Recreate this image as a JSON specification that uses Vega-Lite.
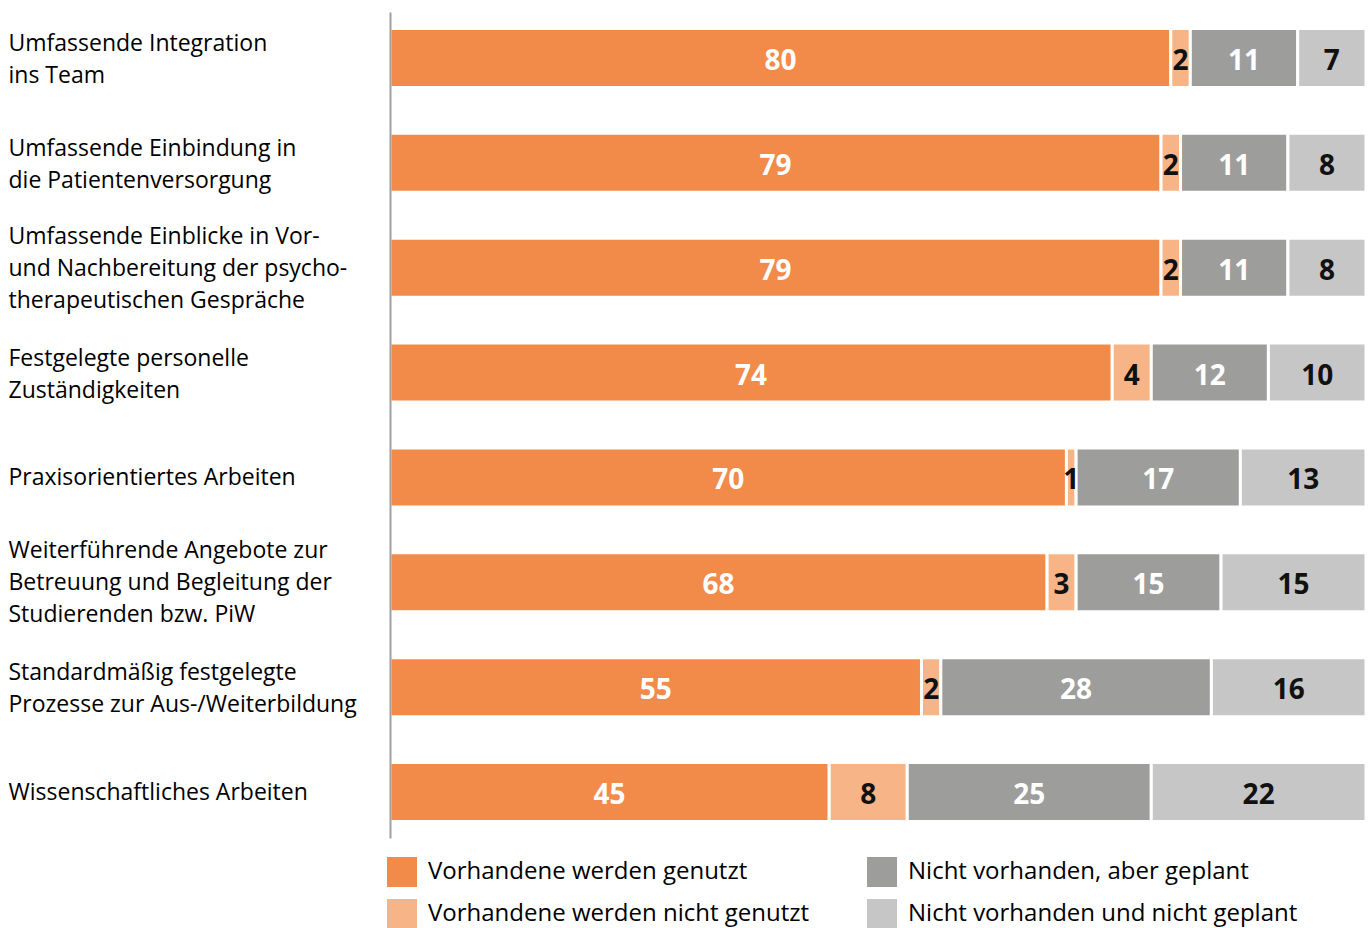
{
  "$schema": "https://vega.github.io/schema/vega-lite/v6.json",
  "width": 976,
  "height": 826,
  "padding": {"left": 8, "top": 12, "right": 0, "bottom": 0},
  "autosize": {"type": "pad"},
  "background": "white",
  "config": {"view": {"stroke": null}, "font": "Open Sans"},
  "data": {
    "values": [
      {"cat": "Umfassende Integration|ins Team", "seg": "Vorhandene werden genutzt", "k": 1, "v": 80},
      {"cat": "Umfassende Integration|ins Team", "seg": "Vorhandene werden nicht genutzt", "k": 2, "v": 2},
      {"cat": "Umfassende Integration|ins Team", "seg": "Nicht vorhanden, aber geplant", "k": 3, "v": 11},
      {"cat": "Umfassende Integration|ins Team", "seg": "Nicht vorhanden und nicht geplant", "k": 4, "v": 7},
      {"cat": "Umfassende Einbindung in|die Patientenversorgung", "seg": "Vorhandene werden genutzt", "k": 1, "v": 79},
      {"cat": "Umfassende Einbindung in|die Patientenversorgung", "seg": "Vorhandene werden nicht genutzt", "k": 2, "v": 2},
      {"cat": "Umfassende Einbindung in|die Patientenversorgung", "seg": "Nicht vorhanden, aber geplant", "k": 3, "v": 11},
      {"cat": "Umfassende Einbindung in|die Patientenversorgung", "seg": "Nicht vorhanden und nicht geplant", "k": 4, "v": 8},
      {"cat": "Umfassende Einblicke in Vor-|und Nachbereitung der psycho-|therapeutischen Gespräche", "seg": "Vorhandene werden genutzt", "k": 1, "v": 79},
      {"cat": "Umfassende Einblicke in Vor-|und Nachbereitung der psycho-|therapeutischen Gespräche", "seg": "Vorhandene werden nicht genutzt", "k": 2, "v": 2},
      {"cat": "Umfassende Einblicke in Vor-|und Nachbereitung der psycho-|therapeutischen Gespräche", "seg": "Nicht vorhanden, aber geplant", "k": 3, "v": 11},
      {"cat": "Umfassende Einblicke in Vor-|und Nachbereitung der psycho-|therapeutischen Gespräche", "seg": "Nicht vorhanden und nicht geplant", "k": 4, "v": 8},
      {"cat": "Festgelegte personelle|Zuständigkeiten", "seg": "Vorhandene werden genutzt", "k": 1, "v": 74},
      {"cat": "Festgelegte personelle|Zuständigkeiten", "seg": "Vorhandene werden nicht genutzt", "k": 2, "v": 4},
      {"cat": "Festgelegte personelle|Zuständigkeiten", "seg": "Nicht vorhanden, aber geplant", "k": 3, "v": 12},
      {"cat": "Festgelegte personelle|Zuständigkeiten", "seg": "Nicht vorhanden und nicht geplant", "k": 4, "v": 10},
      {"cat": "Praxisorientiertes Arbeiten", "seg": "Vorhandene werden genutzt", "k": 1, "v": 70},
      {"cat": "Praxisorientiertes Arbeiten", "seg": "Vorhandene werden nicht genutzt", "k": 2, "v": 1},
      {"cat": "Praxisorientiertes Arbeiten", "seg": "Nicht vorhanden, aber geplant", "k": 3, "v": 17},
      {"cat": "Praxisorientiertes Arbeiten", "seg": "Nicht vorhanden und nicht geplant", "k": 4, "v": 13},
      {"cat": "Weiterführende Angebote zur|Betreuung und Begleitung der|Studierenden bzw. PiW", "seg": "Vorhandene werden genutzt", "k": 1, "v": 68},
      {"cat": "Weiterführende Angebote zur|Betreuung und Begleitung der|Studierenden bzw. PiW", "seg": "Vorhandene werden nicht genutzt", "k": 2, "v": 3},
      {"cat": "Weiterführende Angebote zur|Betreuung und Begleitung der|Studierenden bzw. PiW", "seg": "Nicht vorhanden, aber geplant", "k": 3, "v": 15},
      {"cat": "Weiterführende Angebote zur|Betreuung und Begleitung der|Studierenden bzw. PiW", "seg": "Nicht vorhanden und nicht geplant", "k": 4, "v": 15},
      {"cat": "Standardmäßig festgelegte|Prozesse zur Aus-/Weiterbildung", "seg": "Vorhandene werden genutzt", "k": 1, "v": 55},
      {"cat": "Standardmäßig festgelegte|Prozesse zur Aus-/Weiterbildung", "seg": "Vorhandene werden nicht genutzt", "k": 2, "v": 2},
      {"cat": "Standardmäßig festgelegte|Prozesse zur Aus-/Weiterbildung", "seg": "Nicht vorhanden, aber geplant", "k": 3, "v": 28},
      {"cat": "Standardmäßig festgelegte|Prozesse zur Aus-/Weiterbildung", "seg": "Nicht vorhanden und nicht geplant", "k": 4, "v": 16},
      {"cat": "Wissenschaftliches Arbeiten", "seg": "Vorhandene werden genutzt", "k": 1, "v": 45},
      {"cat": "Wissenschaftliches Arbeiten", "seg": "Vorhandene werden nicht genutzt", "k": 2, "v": 8},
      {"cat": "Wissenschaftliches Arbeiten", "seg": "Nicht vorhanden, aber geplant", "k": 3, "v": 25},
      {"cat": "Wissenschaftliches Arbeiten", "seg": "Nicht vorhanden und nicht geplant", "k": 4, "v": 22}
    ]
  },
  "transform": [
    {"stack": "v", "groupby": ["cat"], "sort": [{"field": "k", "order": "ascending"}], "offset": "normalize", "as": ["x0", "x1"]},
    {"calculate": "(datum.x0 + datum.x1) / 2", "as": "xm"}
  ],
  "encoding": {
    "y": {
      "field": "cat",
      "type": "nominal",
      "sort": null,
      "scale": {"paddingInner": 0.437, "paddingOuter": 0.157},
      "axis": {
        "title": null,
        "ticks": false,
        "tickSize": 0,
        "domain": true,
        "domainColor": "#a0a0a0",
        "domainWidth": 2,
        "zindex": 1,
        "labelAlign": "left",
        "labelBaseline": "middle",
        "labelPadding": 382,
        "labelLimit": 420,
        "labelFontSize": 23,
        "labelColor": "#000000",
        "labelLineHeight": 32,
        "labelOffset": {
          "condition": [
            {"test": "length(split(datum.value, '|')) == 3", "value": -31},
            {"test": "length(split(datum.value, '|')) == 2", "value": -14}
          ],
          "value": 1
        },
        "labelExpr": "split(datum.value, '|')"
      }
    }
  },
  "layer": [
    {
      "mark": {"type": "bar", "stroke": "white", "strokeWidth": 3},
      "encoding": {
        "x": {"field": "x0", "type": "quantitative", "scale": {"domain": [0, 1], "nice": false, "zero": false}, "axis": null},
        "x2": {"field": "x1"},
        "color": {
          "field": "seg",
          "type": "nominal",
          "scale": {
            "domain": ["Vorhandene werden genutzt", "Vorhandene werden nicht genutzt", "Nicht vorhanden, aber geplant", "Nicht vorhanden und nicht geplant"],
            "range": ["#f28a4a", "#f6b487", "#9d9d9c", "#c6c6c6"]
          },
          "legend": {
            "title": null,
            "orient": "none",
            "legendX": -3,
            "legendY": 845,
            "direction": "horizontal",
            "columns": 2,
            "values": ["Vorhandene werden genutzt", "Nicht vorhanden, aber geplant", "Vorhandene werden nicht genutzt", "Nicht vorhanden und nicht geplant"],
            "symbolType": "square",
            "symbolSize": 900,
            "symbolStrokeWidth": 0,
            "symbolOpacity": 1,
            "labelFontSize": 24,
            "labelColor": "#000000",
            "labelOffset": 11,
            "labelLimit": 500,
            "columnPadding": 58,
            "rowPadding": 12,
            "padding": 0
          }
        }
      }
    },
    {
      "mark": {"type": "text", "fontSize": 28, "fontWeight": "bold", "baseline": "middle", "align": "center", "dy": 4},
      "encoding": {
        "x": {"field": "xm", "type": "quantitative"},
        "text": {"field": "v", "type": "quantitative"},
        "color": {"condition": {"test": "datum.k == 1 || datum.k == 3", "value": "#ffffff"}, "value": "#111111"}
      }
    }
  ]
}
